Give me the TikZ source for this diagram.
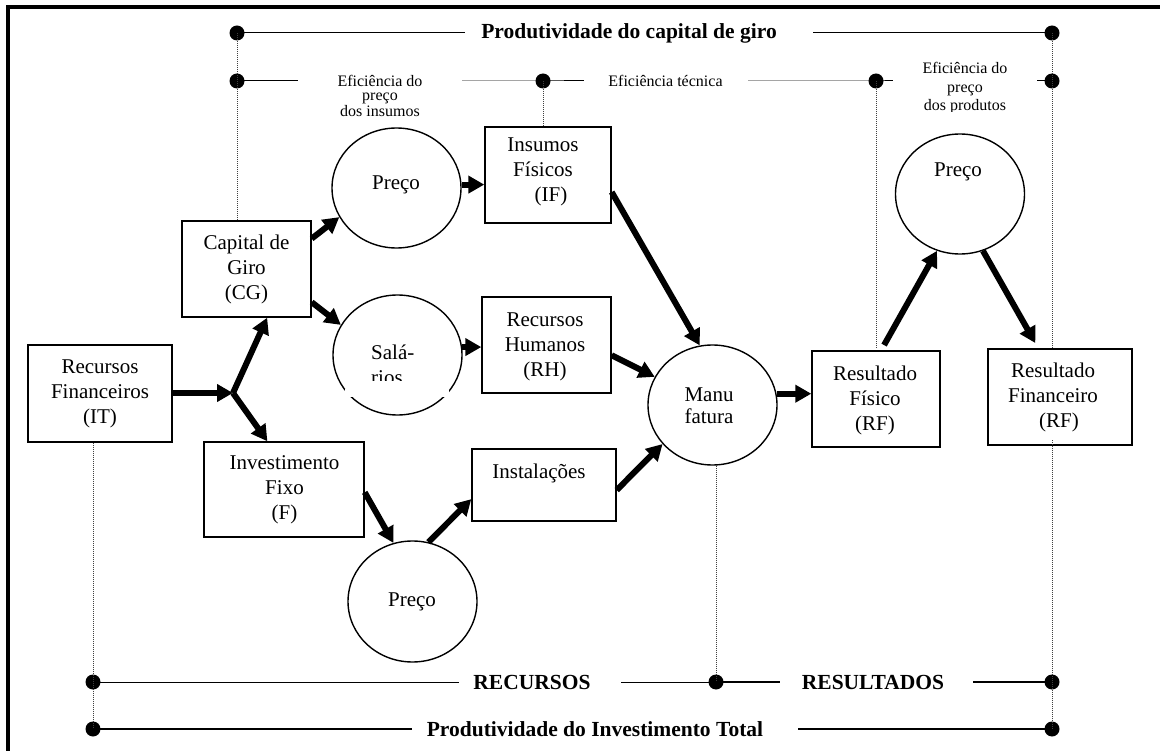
\documentclass[tikz,border=0pt]{standalone}
\usepackage{fontspec}
\setmainfont{Liberation Serif}
\usetikzlibrary{arrows.meta,shapes.geometric,calc}
\begin{document}
\begin{tikzpicture}[x=1pt,y=-1pt,
  box/.style={draw, line width=1.4pt, rectangle, inner sep=0pt},
  oval/.style={draw, line width=1.4pt, ellipse, inner sep=0pt, minimum width=129pt, minimum height=120pt},
  txt/.style={font=\fontsize{21}{25}\selectfont, align=center, inner sep=0pt},
  small/.style={font=\fontsize{16}{14.5}\selectfont, align=center, inner sep=0pt},
  ttl/.style={font=\fontsize{21.5}{25}\selectfont\bfseries, inner sep=0pt},
  bigdot/.style={circle, fill=black, inner sep=0pt, minimum size=15pt},
  flow/.style={line width=6pt, -{Triangle[length=16pt,width=17pt]}},
  guide/.style={line width=0.6pt, black!75, dash pattern=on 1pt off 1pt},
  thinrule/.style={line width=1pt},
  thickrule/.style={line width=2pt}]
\useasboundingbox (0,0) rectangle (1160,751);
% frame
\draw[line width=4pt] (8,751) -- (8,7) -- (1160,7);

% boxes
\node[box, minimum width=144pt, minimum height=97pt] (recfin) at (100,393.5) {};
\node[txt] (recfinT) at (100,394) {Recursos\\Financeiros\\(IT)};
\node[box, minimum width=129pt, minimum height=96pt] (cg) at (246.5,269) {};
\node[txt] (cgT) at (246.5,269) {Capital de\\Giro\\(CG)};
\node[box, minimum width=160pt, minimum height=95pt] (inv) at (284,489.5) {};
\node[txt] (invT) at (284.5,490) {Investimento\\Fixo\\(F)};
\node[box, minimum width=126pt, minimum height=96pt] (ifb) at (548,175) {};
\node[txt] (ifbT) at (543,172) {Insumos\\Físicos\\\hspace*{16pt}(IF)};
\node[box, minimum width=129pt, minimum height=96pt] (rh) at (546.5,345) {};
\node[txt] (rhT) at (545,347) {Recursos\\Humanos\\(RH)};
\node[box, minimum width=144pt, minimum height=72pt] (inst) at (544,485) {};
\node[txt] (instT) at (539,473) {Instalações};
\node[box, minimum width=128pt, minimum height=96pt] (rf) at (876,399) {};
\node[txt] (rfT) at (875,400) {Resultado\\Físico\\(RF)};
\node[box, minimum width=144pt, minimum height=96pt] (rfin) at (1060,397) {};
\node[txt] (rfinT) at (1053,397) {Resultado\\Financeiro\\\hspace*{12pt}(RF)};

% ellipses
\node[oval] (preco1) at (396.5,188) {};
\node[txt] (preco1T) at (396,185) {Preço};
\node[oval] (sal) at (397.5,355) {};
\fill[white] (345,389) rectangle (449,397);
\begin{scope}
  \clip (340,300) rectangle (460,381);
  \node[txt, align=left, anchor=west] (salT) at (371,364.5) {Salá-\\rios};
\end{scope}
\node[oval, minimum height=121pt] (preco2) at (412.5,601.5) {};
\node[txt] (preco2T) at (412,602) {Preço};
\node[oval] (manu) at (712.5,405) {};
\node[txt, font=\fontsize{21}{22}\selectfont] (manuT) at (709,406) {Manu\\fatura};
\node[oval] (preco3) at (960,194) {};
\node[txt] (preco3T) at (958,172) {Preço};

% flow arrows
\coordinate (J) at (233,393);
\draw[flow] (recfin.east |- J) -- (J);
\draw[flow] (J) -- (cg.-67);
\draw[flow] (J) -- (inv.109);
\draw[flow] (cg.25) -- (preco1.207);
\draw[flow] (cg.-27) -- (sal.152);
\draw[flow] (preco1.3) -- (preco1.3 -| ifb.west);
\draw[flow] (sal.7) -- (sal.7 -| rh.west);
\draw[flow] (ifb.-15) -- (manu.102);
\draw[flow] (rh.-9) -- (manu.154);
\draw[flow] (inst.-4) -- (manu.218);
\draw[flow] (inv.-2) -- (preco2.108);
\draw[flow] (preco2.75) -- (inst.191);
\draw[flow] (manu.10) -- (manu.10 -| rf.west);
\draw[flow, shorten <=6pt] (rf.84) -- (preco3.248);
\draw[flow, shorten >=6pt] (preco3.-68) -- (rfin.114);

% dots
\node[bigdot] (d1) at (237,33) {};
\node[bigdot] (d2) at (1052,33) {};
\node[bigdot] (d3) at (237,81) {};
\node[bigdot] (d4) at (543,81) {};
\node[bigdot] (d5) at (876,81) {};
\node[bigdot] (d6) at (1052,81) {};
\node[bigdot] (d7) at (93,682) {};
\node[bigdot] (d8) at (716,682) {};
\node[bigdot] (d9) at (1052,682) {};
\node[bigdot] (d10) at (93,729) {};
\node[bigdot] (d11) at (1052,729) {};

% vertical guides
\draw[guide] (d1.center) -- (d3.center) -- (cg.north -| d3);
\draw[guide] (d4.center) -- (ifb.north -| d4);
\draw[guide] (d5.center) -- ($(rf.north -| d5)+(0,-3)$);
\draw[guide] (d2.center) -- (d6.center) -- (rfin.north -| d6);
\coordinate (rfg) at (1052,440);
\draw[guide] (rfg) -- (rfin.south -| d6);
\draw[guide] (rfin.south -| d6) -- (d9.center) -- (d11.center);
\draw[guide] (recfin.south -| d7) -- (d7.center) -- (d10.center);
\draw[guide] (manu.south -| d8) -- (d8.center);

% row 1
\node[ttl] (t1) at (629,33) {Produtividade do capital de giro};
\coordinate (r1a) at (465,33);
\coordinate (r1b) at (813,33);
\draw[thinrule] (d1.center) -- (r1a);
\draw[thinrule] (r1b) -- (d2.center);

% row 2
\coordinate (r2a) at (298,81);
\coordinate (r2b) at (462,81);
\coordinate (r2c) at (584,81);
\coordinate (r2d) at (748,81);
\coordinate (r2e) at (893,81);
\coordinate (r2f) at (1037,81);
\draw[thinrule] (d3.center) -- (r2a);
\draw[thinrule] (r2b) -- (d4.center) -- (r2c);
\draw[thinrule] (r2d) -- (d5.center) -- (r2e);
\draw[thinrule] (r2f) -- (d6.center);
\node[small] (e1) at (380,95.5) {Eficiência do\\preço\\dos insumos};
\node[small] (e2) at (665.5,81) {Eficiência técnica};
\begin{scope}
  \clip (880,50) rectangle (1040,112);
  \node[small, font=\fontsize{16}{18.5}\selectfont] (e3) at (965,88.5) {Eficiência do\\preço\\dos produtos};
\end{scope}

% bottom row 1
\node[ttl] (t2) at (532,682) {RECURSOS};
\node[ttl] (t3) at (873,682) {RESULTADOS};
\coordinate (b1a) at (459,682);
\coordinate (b1b) at (621,682);
\coordinate (b1c) at (780,682);
\coordinate (b1d) at (973,682);
\draw[thinrule] (d7.center) -- (b1a);
\draw[thinrule] (b1b) -- (d8.center);
\draw[thickrule] (d8.center) -- (b1c);
\draw[thickrule] (b1d) -- (d9.center);

% bottom row 2
\node[ttl] (t4) at (595,729) {Produtividade do Investimento Total};
\coordinate (b2a) at (412,729);
\coordinate (b2b) at (798,729);
\draw[thickrule] (d10.center) -- (b2a);
\draw[thickrule] (b2b) -- (d11.center);
\end{tikzpicture}
\end{document}
